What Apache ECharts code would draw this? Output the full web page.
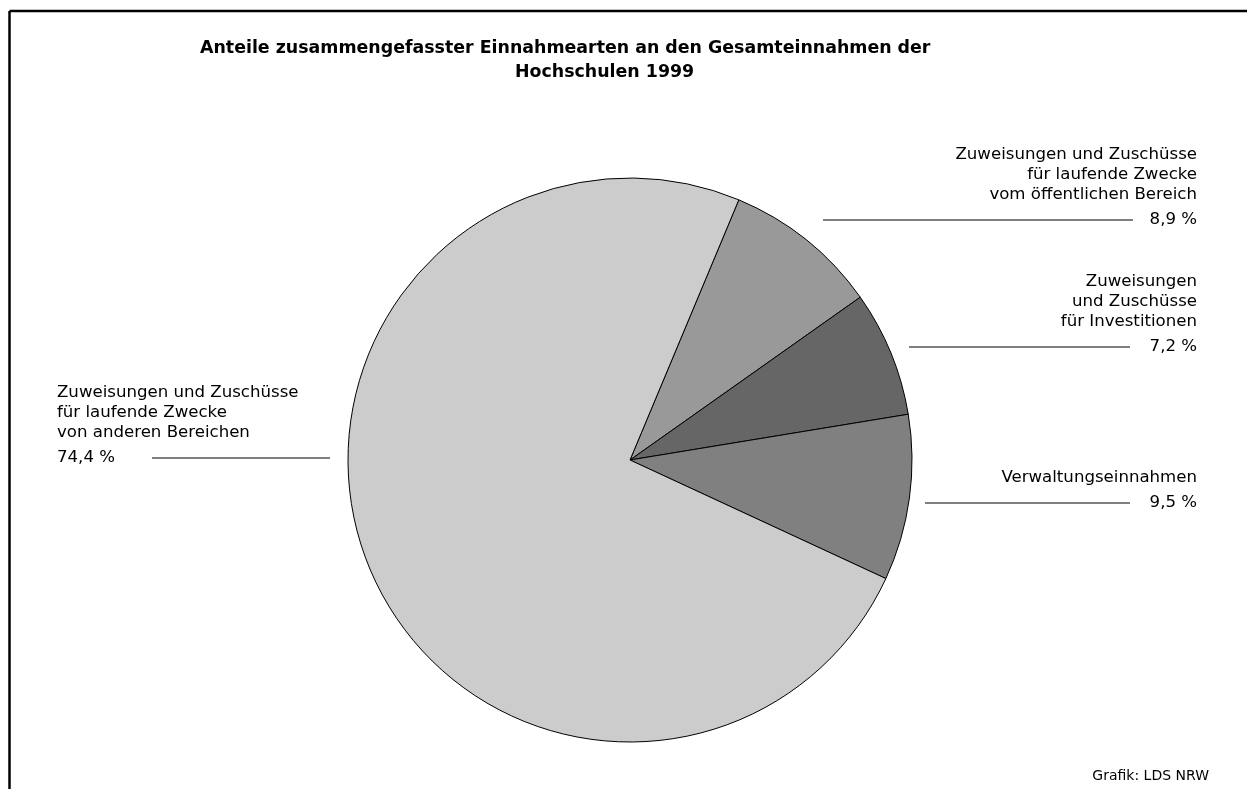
<!DOCTYPE html>
<html>
<head>
<meta charset="utf-8">
<title>Anteile zusammengefasster Einnahmearten 1999</title>
<script src="https://cdn.jsdelivr.net/npm/echarts@6/dist/echarts.min.js"></script>
<style>
  html, body { margin: 0; padding: 0; background: #fff; }
  #chart { width: 1247px; height: 789px; }
</style>
</head>
<body>
<div id="chart"></div>
<script>
// Einnahmearten (Reihenfolge im Uhrzeigersinn ab dem 8,9-%-Segment)
const categories = [
  'Zuweisungen und Zuschüsse\nfür laufende Zwecke\nvom öffentlichen Bereich',
  'Zuweisungen\nund Zuschüsse\nfür Investitionen',
  'Verwaltungseinnahmen',
  'Zuweisungen und Zuschüsse\nfür laufende Zwecke\nvon anderen Bereichen'
];
const shares = [8.9, 7.2, 9.5, 74.4];
const sliceColors = ['#999999', '#666666', '#808080', '#cccccc'];

// label placement: value row y, text anchor x, line from/to
const labelPos = [
  { x: 1197, y: 220, align: 'right', line: [823, 1133] },
  { x: 1197, y: 347, align: 'right', line: [909, 1130] },
  { x: 1197, y: 503, align: 'right', line: [925, 1130] },
  { x: 57, y: 458, align: 'left', line: [152, 330] }
];

const FONT = 'DejaVu Sans';

const chart = echarts.init(document.getElementById('chart'));

const option = {
  animation: false,
  backgroundColor: '#fff',
  title: [
    {
      text: 'Anteile zusammengefasster Einnahmearten an den Gesamteinnahmen der',
      left: 195, top: 35,
      textStyle: { fontFamily: FONT, fontWeight: 'bold', fontSize: 17.4, color: '#000' }
    },
    {
      text: 'Hochschulen 1999',
      left: 510, top: 59,
      textStyle: { fontFamily: FONT, fontWeight: 'bold', fontSize: 17.4, color: '#000' }
    }
  ],
  graphic: [
    { type: 'line', shape: { x1: 9.5, y1: 11, x2: 1247, y2: 11 }, style: { stroke: '#000', lineWidth: 2.5 } },
    { type: 'line', shape: { x1: 9.5, y1: 11, x2: 9.5, y2: 789 }, style: { stroke: '#000', lineWidth: 2.5 } },
    {
      type: 'text', right: 38, top: 769,
      style: { text: 'Grafik: LDS NRW', font: '14px ' + FONT, fill: '#000' }
    }
  ],
  series: [{
    type: 'pie',
    center: [630, 460],
    radius: 282,
    startAngle: 67.3,
    clockwise: true,
    avoidLabelOverlap: false,
    emphasis: { disabled: true },
    itemStyle: { borderColor: '#000', borderWidth: 1 },
    label: {
      show: true,
      position: 'outside',
      fontFamily: FONT,
      fontSize: 16.6,
      lineHeight: 20,
      color: '#000',
      formatter: function (p) {
        return p.name + '\n{v|' + String(p.value).replace('.', ',') + ' %}';
      },
      rich: {
        v: { fontFamily: FONT, fontSize: 16.6, lineHeight: 30, color: '#000' }
      }
    },
    labelLine: { show: true, lineStyle: { color: '#000', width: 1 } },
    labelLayout: function (params) {
      const p = labelPos[params.dataIndex];
      return {
        x: p.x,
        y: p.y + 15,
        align: p.align,
        verticalAlign: 'bottom',
        labelLinePoints: [[p.line[0], p.y], [p.line[1], p.y], [p.line[1], p.y]]
      };
    },
    data: categories.map(function (name, i) {
      return { name: name, value: shares[i], itemStyle: { color: sliceColors[i] } };
    })
  }]
};

chart.setOption(option);
</script>
</body>
</html>
